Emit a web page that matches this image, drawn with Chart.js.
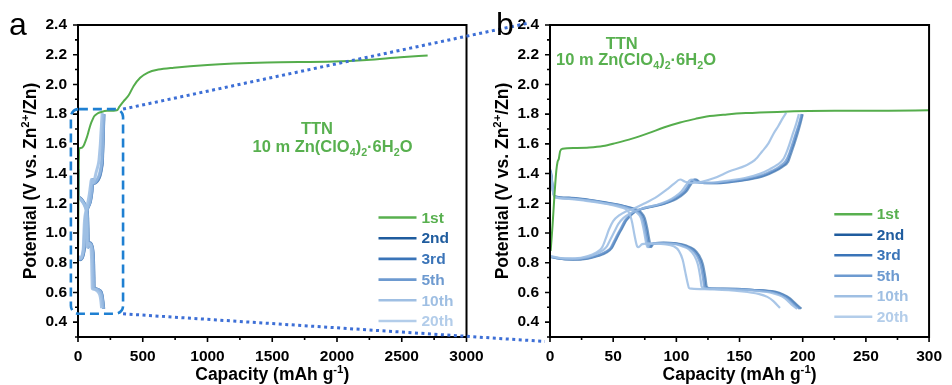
<!DOCTYPE html>
<html>
<head>
<meta charset="utf-8">
<script src="https://cdn.jsdelivr.net/npm/chart.js@4.4.1/dist/chart.umd.min.js"></script>
<style>
  html, body { margin: 0; padding: 0; background: #fff; }
  #wrap { position: relative; width: 952px; height: 385px; overflow: hidden; }
  #wrap canvas { position: absolute; top: 0; }
</style>
</head>
<body>
<div id="wrap">
  <canvas id="chartA" width="500" height="385" style="left:0"></canvas>
  <canvas id="chartB" width="472" height="385" style="left:480px"></canvas>
  <canvas id="zoomLines" width="952" height="385" style="left:0"></canvas>
</div>
<script>
// cycle names and colours
const cycleNames = ['1st', '2nd', '3rd', '5th', '10th', '20th'];
const cycleColors = ['#58b04f', '#1f5c9e', '#3a74b8', '#6d9ad0', '#9fbfe3', '#b3cdea'];
const lineColors = ['#55ad4c', 'rgba(31,92,158,0.62)', 'rgba(58,116,184,0.62)',
  'rgba(109,154,208,0.75)', 'rgba(150,186,226,0.85)', 'rgba(160,192,228,0.9)'];

// [capacity (mAh g-1), potential (V)]
const charge1st = [[0.5, 0.88], [2, 1.05], [3.5, 1.25], [5, 1.42], [6, 1.48], [7, 1.5], [8, 1.55],
  [10, 1.567], [20, 1.572], [31, 1.575], [42, 1.585], [52, 1.605], [65, 1.635], [78, 1.672],
  [90, 1.71], [103, 1.744], [115, 1.768], [124, 1.784], [140, 1.798], [155, 1.807], [180, 1.815],
  [225, 1.822], [300, 1.826], [320, 1.85], [350, 1.885], [390, 1.925], [430, 1.99], [480, 2.045],
  [540, 2.08], [620, 2.1], [740, 2.113], [1000, 2.131], [1460, 2.147], [1975, 2.154],
  [2230, 2.165], [2490, 2.183], [2700, 2.195]];

const discharge2nd = [[0, 1.43], [1, 1.4], [2.5, 1.28], [4, 1.247], [15, 1.238], [30, 1.225],
  [45, 1.205], [55, 1.19], [62, 1.175], [68, 1.16], [72, 1.14], [75, 1.1], [77, 1.03], [78.5, 0.96],
  [80, 0.905], [82, 0.93], [90, 0.935], [100, 0.93], [108, 0.915], [114, 0.89], [118, 0.85],
  [121, 0.79], [123, 0.7], [124, 0.64], [126, 0.628], [140, 0.625], [160, 0.618], [178, 0.605],
  [185, 0.585], [190, 0.56], [195, 0.52], [199, 0.49]];
const charge2nd = [[0, 0.84], [5, 0.83], [18, 0.82], [30, 0.828], [38, 0.845], [45, 0.87], [49, 0.9],
  [52, 0.95], [55, 1.0], [57, 1.03], [60, 1.08], [63, 1.11], [67, 1.14], [72, 1.16], [80, 1.175],
  [90, 1.195], [98, 1.22], [103, 1.245], [108, 1.28], [111, 1.32], [114, 1.355], [116, 1.36],
  [118, 1.345], [122, 1.336], [130, 1.335], [145, 1.345], [158, 1.36], [170, 1.385], [178, 1.415],
  [184, 1.445], [188.5, 1.48], [191, 1.54], [193.6, 1.605], [196, 1.67], [198, 1.73], [200, 1.8]];

const discharge3rd = [[0, 1.42], [1, 1.39], [2.5, 1.28], [4, 1.245], [15, 1.236], [30, 1.223],
  [45, 1.203], [55, 1.188], [62, 1.173], [67, 1.16], [71, 1.14], [74, 1.1], [76, 1.03], [77.5, 0.96],
  [79, 0.905], [81, 0.928], [90, 0.934], [100, 0.928], [107, 0.913], [113, 0.89], [117, 0.85],
  [120, 0.79], [122, 0.7], [123, 0.64], [125, 0.628], [140, 0.624], [160, 0.617], [177, 0.604],
  [184, 0.585], [189, 0.56], [194, 0.52], [198, 0.49]];
const charge3rd = [[0, 0.84], [5, 0.83], [18, 0.822], [30, 0.83], [38, 0.848], [45, 0.875],
  [48.5, 0.9], [51.5, 0.95], [54.5, 1.0], [56.5, 1.03], [59.5, 1.08], [62.5, 1.11], [66.5, 1.14],
  [72, 1.16], [80, 1.177], [90, 1.198], [97, 1.222], [102, 1.247], [107, 1.28], [110, 1.32],
  [113, 1.355], [115, 1.36], [117, 1.345], [121, 1.337], [130, 1.336], [145, 1.347], [157, 1.362],
  [169, 1.387], [177, 1.417], [183, 1.447], [187.5, 1.482], [190, 1.54], [192.8, 1.605],
  [195, 1.67], [197.3, 1.73], [199.5, 1.8]];

const discharge5th = [[0, 1.41], [1, 1.38], [2.5, 1.28], [4, 1.243], [15, 1.234], [30, 1.221],
  [45, 1.2], [55, 1.186], [62, 1.17], [66, 1.158], [70, 1.14], [73, 1.1], [75, 1.03], [76.5, 0.96],
  [78, 0.905], [80, 0.927], [90, 0.932], [100, 0.926], [106, 0.912], [112, 0.89], [116, 0.85],
  [119, 0.79], [121, 0.7], [122, 0.64], [124, 0.627], [140, 0.623], [160, 0.616], [176, 0.603],
  [183, 0.584], [188, 0.56], [193, 0.52], [197.5, 0.49]];
const charge5th = [[0, 0.842], [5, 0.832], [18, 0.824], [30, 0.832], [38, 0.85], [44, 0.875],
  [48, 0.9], [51, 0.95], [54, 1.0], [56, 1.03], [59, 1.08], [62, 1.11], [66, 1.14], [72, 1.162],
  [80, 1.18], [90, 1.2], [96, 1.222], [101, 1.247], [106, 1.28], [109.5, 1.32], [112.5, 1.355],
  [114.5, 1.36], [116.5, 1.345], [120, 1.338], [130, 1.338], [145, 1.35], [156, 1.365], [168, 1.39],
  [176, 1.42], [182, 1.45], [186.5, 1.485], [189.5, 1.54], [192, 1.605], [194.5, 1.67],
  [196.8, 1.73], [199, 1.8]];

const discharge10th = [[0, 1.41], [1, 1.37], [2.5, 1.27], [4, 1.242], [15, 1.232], [30, 1.219],
  [45, 1.198], [55, 1.183], [61, 1.168], [65, 1.155], [69, 1.135], [72, 1.1], [74, 1.03],
  [75.5, 0.96], [77, 0.905], [79, 0.926], [90, 0.93], [100, 0.923], [105, 0.91], [110, 0.89],
  [114, 0.85], [117, 0.79], [119, 0.7], [120, 0.64], [122, 0.627], [140, 0.622], [160, 0.614],
  [174, 0.6], [181, 0.582], [186, 0.56], [191, 0.52], [195.5, 0.49]];
const charge10th = [[0, 0.843], [8, 0.83], [18, 0.826], [30, 0.838], [37, 0.86], [42, 0.885],
  [45, 0.91], [48, 0.96], [51, 1.01], [54, 1.06], [58, 1.1], [63, 1.13], [68, 1.15], [75, 1.17],
  [85, 1.19], [93, 1.215], [99, 1.245], [104, 1.28], [107.5, 1.32], [110.5, 1.355], [112.5, 1.36],
  [114.5, 1.345], [118, 1.338], [130, 1.34], [143, 1.355], [155, 1.372], [166, 1.398], [174, 1.43],
  [180, 1.46], [184.5, 1.495], [187.5, 1.55], [190, 1.61], [192.5, 1.675], [195, 1.74], [197, 1.8]];

const discharge20th = [[0, 1.42], [1, 1.38], [2.5, 1.27], [4, 1.24], [15, 1.23], [30, 1.215],
  [45, 1.195], [55, 1.175], [60, 1.16], [63, 1.13], [65, 1.07], [67, 0.98], [69, 0.91], [70, 0.905],
  [73, 0.925], [80, 0.93], [90, 0.925], [98, 0.91], [102, 0.88], [105, 0.82], [107, 0.74],
  [109, 0.66], [110, 0.63], [112, 0.625], [130, 0.62], [150, 0.608], [165, 0.59], [172, 0.57],
  [177, 0.54], [182, 0.495]];
const charge20th = [[0, 0.845], [10, 0.83], [20, 0.83], [30, 0.845], [36, 0.865], [41, 0.9],
  [44, 0.96], [46.5, 1.02], [50, 1.08], [55, 1.12], [60, 1.145], [65, 1.16], [75, 1.2], [85, 1.247],
  [92, 1.29], [98, 1.33], [103, 1.36], [107, 1.345], [111, 1.336], [120, 1.345], [130, 1.37],
  [142, 1.415], [155, 1.455], [162, 1.49], [168, 1.55], [173, 1.605], [177, 1.67], [180.7, 1.72],
  [184, 1.77], [187, 1.81]];

// tick values
const xTicksA = [0, 500, 1000, 1500, 2000, 2500, 3000];
const xMinorA = [250, 750, 1250, 1750, 2250, 2750];
const xTicksB = [0, 50, 100, 150, 200, 250, 300];
const xMinorB = [25, 75, 125, 175, 225, 275];
const yTicks = [0.4, 0.6, 0.8, 1.0, 1.2, 1.4, 1.6, 1.8, 2.0, 2.2, 2.4];
const yMinor = [0.3, 0.5, 0.7, 0.9, 1.1, 1.3, 1.5, 1.7, 1.9, 2.1, 2.3];

// zoomed window on panel a, and where the guide lines land on panel b
const zoomCap = [-55, 348];
const zoomPot = [0.456, 1.834];
const linkCap = [-17, -4];
const linkPot = [2.413, 0.27];

const cycles = [
  [charge1st],
  [discharge2nd, charge2nd],
  [discharge3rd, charge3rd],
  [discharge5th, charge5th],
  [discharge10th, charge10th],
  [discharge20th, charge20th]
];

const FONT = 'Arial';
const TEXT_GREEN = '#58b04f';

function toPoints(segments) {
  const pts = [];
  segments.forEach((seg, i) => {
    if (i > 0) pts.push({ x: 0, y: null }); // break between discharge and charge
    seg.forEach(([x, y]) => pts.push({ x, y }));
  });
  return pts;
}

// text with sub/superscripts; parts = [text, 'sup' | 'sub' | undefined]
function drawRich(ctx, parts, x, y, size, align) {
  const small = size * 0.65;
  let total = 0;
  const widths = parts.map(([t, k]) => {
    ctx.font = `bold ${k ? small : size}px ${FONT}`;
    const w = ctx.measureText(t).width;
    total += w;
    return w;
  });
  let cx = align === 'center' ? x - total / 2 : x;
  ctx.textAlign = 'left';
  ctx.textBaseline = 'alphabetic';
  parts.forEach(([t, k], i) => {
    ctx.font = `bold ${k ? small : size}px ${FONT}`;
    const dy = k === 'sup' ? -size * 0.4 : k === 'sub' ? size * 0.22 : 0;
    ctx.fillText(t, cx, y + dy);
    cx += widths[i];
  });
}

const xTitle = [['Capacity (mAh g'], ['-1', 'sup'], [')']];
const yTitle = [['Potential (V vs. Zn'], ['2+', 'sup'], ['/Zn)']];
const saltText = [['10 m Zn(ClO'], ['4', 'sub'], [')'], ['2', 'sub'], ['·6H'], ['2', 'sub'], ['O']];

const panelDecor = {
  id: 'panelDecor',
  afterDraw(chart, args, opts) {
    const { ctx, chartArea: a, scales: { x, y } } = chart;
    ctx.save();
    // tick marks, outward
    ctx.strokeStyle = '#000';
    ctx.lineWidth = 1.6;
    ctx.beginPath();
    x.ticks.forEach(t => { const px = x.getPixelForValue(t.value); ctx.moveTo(px, a.bottom); ctx.lineTo(px, a.bottom + 5); });
    opts.xMinor.forEach(v => { const px = x.getPixelForValue(v); ctx.moveTo(px, a.bottom); ctx.lineTo(px, a.bottom + 3); });
    y.ticks.forEach(t => { const py = y.getPixelForValue(t.value); ctx.moveTo(a.left, py); ctx.lineTo(a.left - 5, py); });
    yMinor.forEach(v => { const py = y.getPixelForValue(v); ctx.moveTo(a.left, py); ctx.lineTo(a.left - 3, py); });
    ctx.stroke();
    // frame
    ctx.lineWidth = 2;
    ctx.strokeRect(a.left, a.top, a.right - a.left, a.bottom - a.top);

    // axis titles
    ctx.fillStyle = '#000';
    drawRich(ctx, xTitle, (a.left + a.right) / 2, opts.xTitleY, 17.5, 'center');
    ctx.save();
    ctx.translate(opts.yTitleX, (a.top + a.bottom) / 2);
    ctx.rotate(-Math.PI / 2);
    drawRich(ctx, yTitle, 0, 0, 17.5, 'center');
    ctx.restore();

    // electrolyte note
    ctx.fillStyle = TEXT_GREEN;
    drawRich(ctx, [['TTN']], opts.note[0], opts.note[1], 16.5, 'center');
    drawRich(ctx, saltText, opts.note[2], opts.note[3], 16.5, 'center');

    // legend
    const lg = opts.legend;
    chart.data.datasets.forEach((ds, i) => {
      const yy = lg.y0 + i * lg.step;
      ctx.strokeStyle = ds.legendColor;
      ctx.lineWidth = 2.6;
      ctx.beginPath();
      ctx.moveTo(lg.x0, yy);
      ctx.lineTo(lg.x1, yy);
      ctx.stroke();
      ctx.fillStyle = ds.legendColor;
      ctx.font = `bold 15.5px ${FONT}`;
      ctx.textAlign = 'left';
      ctx.textBaseline = 'middle';
      ctx.fillText(ds.label, lg.tx, yy + 1);
    });
    ctx.restore();
  }
};

function makeChart(id, cfg) {
  const datasets = cycles.map((segs, i) => ({
    label: cycleNames[i],
    data: toPoints(segs),
    borderColor: lineColors[i],
    legendColor: cycleColors[i],
    borderWidth: i === 0 ? 2 : cfg.lineWidth,
    // later cycles are drawn over earlier ones, the first charge on top
    order: i === 0 ? -1 : cycles.length - i,
    cubicInterpolationMode: 'monotone',
    pointRadius: 0,
    spanGaps: false,
    fill: false
  }));
  const tickFont = { family: FONT, size: 15.5, weight: 'bold' };
  return new Chart(document.getElementById(id), {
    type: 'line',
    data: { datasets },
    plugins: [panelDecor],
    options: {
      responsive: false,
      animation: false,
      layout: { padding: { top: 25, right: cfg.padRight, left: 0, bottom: 0 } },
      plugins: {
        legend: { display: false },
        tooltip: { enabled: false },
        panelDecor: cfg.decor
      },
      scales: {
        x: {
          type: 'linear', min: 0, max: cfg.xMax,
          grid: { display: false, drawTicks: false }, border: { display: false },
          ticks: { font: tickFont, color: '#000', padding: 10, maxRotation: 0, callback: v => String(v) },
          afterBuildTicks: s => { s.ticks = cfg.xTicks.map(v => ({ value: v })); },
          afterFit: s => { s.height = 48; }
        },
        y: {
          type: 'linear', min: 0.3, max: 2.4,
          grid: { display: false, drawTicks: false }, border: { display: false },
          ticks: { font: tickFont, color: '#000', padding: 11, callback: v => v.toFixed(1) },
          afterBuildTicks: s => { s.ticks = yTicks.map(v => ({ value: v })); },
          afterFit: s => { s.width = cfg.yWidth; }
        }
      }
    }
  });
}

const chartA = makeChart('chartA', {
  xMax: 3000, xTicks: xTicksA, yWidth: 78, padRight: 33.5, lineWidth: 3,
  decor: {
    xMinor: xMinorA, xTitleY: 380, yTitleX: 36,
    note: [317, 134, 332.5, 152],
    legend: { x0: 378.5, x1: 416.5, tx: 421.5, y0: 217.5, step: 20.7 }
  }
});

const chartB = makeChart('chartB', {
  xMax: 300, xTicks: xTicksB, yWidth: 70, padRight: 14.7, lineWidth: 2.2,
  decor: {
    xMinor: xMinorB, xTitleY: 380, yTitleX: 28,
    note: [141.7, 48.5, 156, 65],
    legend: { x0: 354.3, x1: 392.3, tx: 396.7, y0: 214.2, step: 20.5 }
  }
});

// zoom box on panel a and the dotted guides to panel b
const overlay = document.getElementById('zoomLines');
const octx = overlay.getContext('2d');
const offB = document.getElementById('chartB').offsetLeft;
const xa = chartA.scales.x, ya = chartA.scales.y;
const xb = chartB.scales.x, yb = chartB.scales.y;

const bl = xa.getPixelForValue(zoomCap[0]), br = xa.getPixelForValue(zoomCap[1]);
const bt = ya.getPixelForValue(zoomPot[1]), bb = ya.getPixelForValue(zoomPot[0]);
const r = 8;
octx.strokeStyle = '#1f80d2';
octx.lineWidth = 2.6;
octx.setLineDash([9, 5]);
octx.beginPath();
octx.moveTo(bl + r, bt);
octx.arcTo(br, bt, br, bb, r);
octx.arcTo(br, bb, bl, bb, r);
octx.arcTo(bl, bb, bl, bt, r);
octx.arcTo(bl, bt, br, bt, r);
octx.closePath();
octx.stroke();

octx.strokeStyle = '#3d6fd6';
octx.lineWidth = 3;
octx.setLineDash([3, 3.5]);
octx.beginPath();
octx.moveTo(br, bt);
octx.lineTo(offB + xb.getPixelForValue(linkCap[0]), yb.getPixelForValue(linkPot[0]));
octx.moveTo(br, bb);
octx.lineTo(offB + xb.getPixelForValue(linkCap[1]), yb.getPixelForValue(linkPot[1]));
octx.stroke();
octx.setLineDash([]);

// panel letters
octx.fillStyle = '#000';
octx.font = `32px ${FONT}`;
octx.textAlign = 'left';
octx.textBaseline = 'alphabetic';
octx.fillText('a', 9, 35);
octx.fillText('b', 496, 35);
</script>
</body>
</html>
